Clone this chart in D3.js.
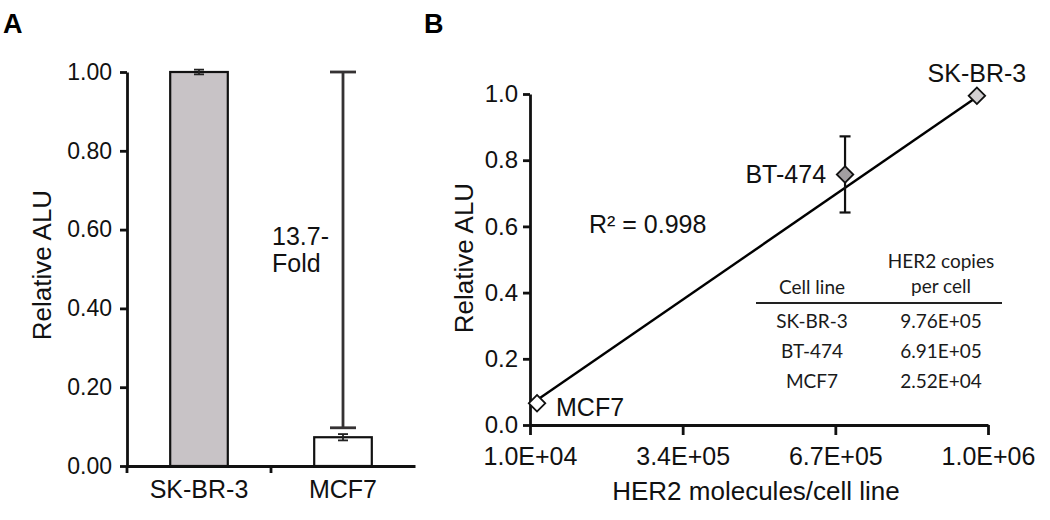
<!DOCTYPE html>
<html>
<head>
<meta charset="utf-8">
<script src="https://cdn.jsdelivr.net/npm/d3@7"></script>
<style>
  body { margin: 0; background: #fff; }
  svg { display: block; }
</style>
</head>
<body>
<div class="container"></div>
<script>
// panel A data
var barCategories = ['SK-BR-3', 'MCF7'];
var barValues = [1.0, 0.073];
var barErrors = [0.006, 0.008];
var barFills = ['#c8c3c6', '#ffffff'];
var yTicksA = [0, 0.2, 0.4, 0.6, 0.8, 1.0];
var foldRange = [0.097, 1.0];
var foldText = ['13.7-', 'Fold'];

// panel B data
var cellLines = ['SK-BR-3', 'BT-474', 'MCF7'];
var her2Copies = [9.76e5, 6.91e5, 2.52e4];
var relativeAlu = [0.995, 0.757, 0.066];
var aluErrors = [0, 0.115, 0];
var pointFills = ['#d2cfd1', '#a29ea1', '#ffffff'];
var xTicksB = [1.0e4, 3.4e5, 6.7e5, 1.0e6];
var xTickLabelsB = ['1.0E+04', '3.4E+05', '6.7E+05', '1.0E+06'];
var yTicksB = [0, 0.2, 0.4, 0.6, 0.8, 1.0];
var fitSlope = 9.63e-7;
var fitIntercept = 0.051;
var r2Text = 'R\u00b2 = 0.998';
var copiesText = ['9.76E+05', '6.91E+05', '2.52E+04'];

var w = 1050, h = 520;
var font = '"Liberation Sans", Arial, sans-serif';

var svg = d3.select('.container')
  .append('svg')
  .attr('width', w)
  .attr('height', h);

/* ---------- Panel A ---------- */

var yA = d3.scaleLinear().domain([0, 1]).range([466, 72]);
var xA = d3.scaleBand().domain(barCategories).range([127, 415]);
var barW = xA.bandwidth() * 0.4;

svg.append('text')
  .attr('x', 3).attr('y', 33)
  .style('font', 'bold 27px ' + font)
  .text('A');

var yAxisA = svg.append('g')
  .attr('transform', 'translate(127,0)')
  .call(d3.axisLeft(yA).tickValues(yTicksA).tickFormat(d3.format('.2f'))
    .tickSize(7).tickSizeOuter(0).tickPadding(8));
yAxisA.selectAll('text').style('font', '23px ' + font).attr('fill', '#111');

var xAxisA = svg.append('g')
  .attr('transform', 'translate(0,' + yA(0) + ')')
  .call(d3.axisBottom(xA).tickSize(0).tickSizeOuter(0).tickPadding(14));
xAxisA.selectAll('text').style('font', '25px ' + font).attr('fill', '#111');

// category boundary ticks
svg.selectAll('.tickA')
  .data(barCategories)
  .enter()
  .append('line')
  .attr('x1', function(d) { return xA(d); })
  .attr('x2', function(d) { return xA(d); })
  .attr('y1', yA(0))
  .attr('y2', yA(0) + 7)
  .attr('stroke', '#111')
  .attr('stroke-width', 2.8);

[yAxisA, xAxisA].forEach(function(g) {
  g.selectAll('path, line').attr('stroke', '#111').attr('stroke-width', 2.8);
});

svg.append('text')
  .attr('transform', 'translate(51,265) rotate(-90)')
  .attr('text-anchor', 'middle')
  .style('font', '26px ' + font)
  .attr('fill', '#111')
  .text('Relative ALU');

// bars
svg.selectAll('.barA')
  .data(barCategories)
  .enter()
  .append('rect')
  .attr('x', function(d) { return xA(d) + (xA.bandwidth() - barW) / 2; })
  .attr('y', function(d, i) { return yA(barValues[i]); })
  .attr('width', barW)
  .attr('height', function(d, i) { return yA(0) - yA(barValues[i]); })
  .attr('fill', function(d, i) { return barFills[i]; })
  .attr('stroke', '#111')
  .attr('stroke-width', 2.2);

// error bars
var errA = svg.selectAll('.errA')
  .data(barCategories)
  .enter()
  .append('g')
  .attr('stroke', '#222')
  .attr('stroke-width', 1.8);
errA.append('line')
  .attr('x1', function(d) { return xA(d) + xA.bandwidth() / 2; })
  .attr('x2', function(d) { return xA(d) + xA.bandwidth() / 2; })
  .attr('y1', function(d, i) { return yA(barValues[i] - barErrors[i]); })
  .attr('y2', function(d, i) { return yA(barValues[i] + barErrors[i]); });
[-1, 1].forEach(function(s) {
  errA.append('line')
    .attr('x1', function(d) { return xA(d) + xA.bandwidth() / 2 - 5; })
    .attr('x2', function(d) { return xA(d) + xA.bandwidth() / 2 + 5; })
    .attr('y1', function(d, i) { return yA(barValues[i] + s * barErrors[i]); })
    .attr('y2', function(d, i) { return yA(barValues[i] + s * barErrors[i]); });
});

// fold bracket
var fx = xA('MCF7') + xA.bandwidth() / 2;
var fold = svg.append('g').attr('stroke', '#353233').attr('stroke-width', 2.8);
fold.append('line').attr('x1', fx).attr('x2', fx)
  .attr('y1', yA(foldRange[0])).attr('y2', yA(foldRange[1]));
foldRange.forEach(function(v) {
  fold.append('line').attr('x1', fx - 13).attr('x2', fx + 13)
    .attr('y1', yA(v)).attr('y2', yA(v));
});
svg.selectAll('.foldText')
  .data(foldText)
  .enter()
  .append('text')
  .attr('x', xA('MCF7') + 1)
  .attr('y', function(d, i) { return yA(0.56) + i * 27; })
  .style('font', '25px ' + font)
  .attr('fill', '#111')
  .text(function(d) { return d; });

/* ---------- Panel B ---------- */

var xB = d3.scaleLinear().domain([1.0e4, 1.0e6]).range([530, 988]);
var yB = d3.scaleLinear().domain([0, 1]).range([425, 94]);

svg.append('text')
  .attr('x', 424).attr('y', 33)
  .style('font', 'bold 27px ' + font)
  .text('B');

var yAxisB = svg.append('g')
  .attr('transform', 'translate(' + xB.range()[0] + ',0)')
  .call(d3.axisLeft(yB).tickValues(yTicksB).tickFormat(d3.format('.1f'))
    .tickSize(7).tickSizeOuter(0).tickPadding(5));
yAxisB.selectAll('text').style('font', '24px ' + font).attr('fill', '#111');

var xAxisB = svg.append('g')
  .attr('transform', 'translate(0,' + yB(0) + ')')
  .call(d3.axisBottom(xB).tickValues(xTicksB)
    .tickFormat(function(d, i) { return xTickLabelsB[i]; })
    .tickSize(10).tickSizeOuter(0).tickPadding(12));
xAxisB.selectAll('text').style('font', '25px ' + font).attr('fill', '#111');

[yAxisB, xAxisB].forEach(function(g) {
  g.selectAll('path, line').attr('stroke', '#111').attr('stroke-width', 2.8);
});

svg.append('text')
  .attr('transform', 'translate(473,258) rotate(-90)')
  .attr('text-anchor', 'middle')
  .style('font', '26px ' + font)
  .attr('fill', '#111')
  .text('Relative ALU');

svg.append('text')
  .attr('x', (xB.range()[0] + xB.range()[1]) / 2 - 3)
  .attr('y', 500)
  .attr('text-anchor', 'middle')
  .style('font', '26px ' + font)
  .attr('fill', '#111')
  .text('HER2 molecules/cell line');

// fit line
var xExtent = d3.extent(her2Copies);
svg.append('line')
  .attr('x1', xB(xExtent[0]))
  .attr('y1', yB(fitIntercept + fitSlope * xExtent[0]))
  .attr('x2', xB(xExtent[1]))
  .attr('y2', yB(fitIntercept + fitSlope * xExtent[1]))
  .attr('stroke', '#000')
  .attr('stroke-width', 2.4);

svg.append('text')
  .attr('x', 589).attr('y', 233)
  .style('font', '25px ' + font)
  .attr('fill', '#111')
  .text(r2Text);

// error bars
var errB = svg.selectAll('.errB')
  .data(cellLines.filter(function(d, i) { return aluErrors[i] > 0; }))
  .enter()
  .append('g')
  .attr('stroke', '#111')
  .attr('stroke-width', 2.2);
function idx(d) { return cellLines.indexOf(d); }
errB.append('line')
  .attr('x1', function(d) { return xB(her2Copies[idx(d)]); })
  .attr('x2', function(d) { return xB(her2Copies[idx(d)]); })
  .attr('y1', function(d) { return yB(relativeAlu[idx(d)] - aluErrors[idx(d)]); })
  .attr('y2', function(d) { return yB(relativeAlu[idx(d)] + aluErrors[idx(d)]); });
[-1, 1].forEach(function(s) {
  errB.append('line')
    .attr('x1', function(d) { return xB(her2Copies[idx(d)]) - 5.5; })
    .attr('x2', function(d) { return xB(her2Copies[idx(d)]) + 5.5; })
    .attr('y1', function(d) { return yB(relativeAlu[idx(d)] + s * aluErrors[idx(d)]); })
    .attr('y2', function(d) { return yB(relativeAlu[idx(d)] + s * aluErrors[idx(d)]); });
});

// diamonds
var diamond = d3.symbol().type(d3.symbolSquare).size(136);
svg.selectAll('.pt')
  .data(cellLines)
  .enter()
  .append('path')
  .attr('d', diamond)
  .attr('transform', function(d, i) {
    return 'translate(' + xB(her2Copies[i]) + ',' + yB(relativeAlu[i]) + ') rotate(45)';
  })
  .attr('fill', function(d, i) { return pointFills[i]; })
  .attr('stroke', '#111')
  .attr('stroke-width', 1.8);

// point labels
var labelPlace = {
  'SK-BR-3': { dx: 0, dy: -14, anchor: 'middle' },
  'BT-474': { dx: -19, dy: 9, anchor: 'end' },
  'MCF7': { dx: 19, dy: 13, anchor: 'start' }
};
svg.selectAll('.ptLabel')
  .data(cellLines)
  .enter()
  .append('text')
  .attr('x', function(d, i) { return xB(her2Copies[i]) + labelPlace[d].dx; })
  .attr('y', function(d, i) { return yB(relativeAlu[i]) + labelPlace[d].dy; })
  .attr('text-anchor', function(d) { return labelPlace[d].anchor; })
  .style('font', '25px ' + font)
  .attr('fill', '#111')
  .text(function(d) { return d; });

// inset table
var tFont = '19px Lato, "Open Sans", sans-serif';
var col1 = 812, col2 = 941, ruleY = 303;
var table = svg.append('g').attr('fill', '#1a1a1a').style('font', tFont).attr('text-anchor', 'middle');
table.append('text').attr('x', col1).attr('y', ruleY - 9).text('Cell line');
table.append('text').attr('x', col2).attr('y', ruleY - 35).text('HER2 copies');
table.append('text').attr('x', col2).attr('y', ruleY - 10).text('per cell');
table.append('line')
  .attr('x1', 756).attr('x2', 1002)
  .attr('y1', ruleY).attr('y2', ruleY)
  .attr('stroke', '#222').attr('stroke-width', 1.8);
table.selectAll('.row1')
  .data(cellLines)
  .enter()
  .append('text')
  .attr('x', col1)
  .attr('y', function(d, i) { return ruleY + 25 + i * 30; })
  .text(function(d) { return d; });
table.selectAll('.row2')
  .data(copiesText)
  .enter()
  .append('text')
  .attr('x', col2)
  .attr('y', function(d, i) { return ruleY + 25 + i * 30; })
  .text(function(d) { return d; });
</script>
</body>
</html>
